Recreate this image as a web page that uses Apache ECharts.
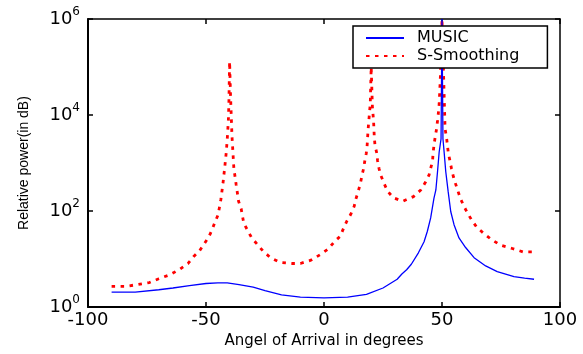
<!DOCTYPE html>
<html>
<head>
<meta charset="utf-8">
<script src="https://cdn.jsdelivr.net/npm/echarts@6/dist/echarts.min.js"></script>
<style>
html,body{margin:0;padding:0;background:#fff;}
#chart{width:583px;height:354px;}
</style>
</head>
<body>
<div id="chart"></div>
<script>
// MUSIC spectrum (angle in degrees, relative power)
var musicAngles = [-90,-80,-70,-64,-57,-50,-45,-41,-36,-30,-25,-18,-10,0,10,18,25,31,33,35,37,40,42.4,43.8,45.2,46.6,47.4,48.1,48.8,49.6,50,50.4,50.9,51.6,52.6,53.7,55.1,57.2,60,63.6,68.5,73.4,80.5,85,89];
var musicValues = [2.05,2.05,2.3,2.5,2.8,3.1,3.2,3.2,2.95,2.6,2.2,1.8,1.62,1.55,1.62,1.85,2.5,3.8,4.9,6.0,7.8,13.5,23,38,72,186,275,660,1700,3200,1000000,3200,1700,660,257,98,52,27.5,17.4,10.7,7.2,5.5,4.3,4.0,3.8];

// S-Smoothing spectrum
var smoothAngles = [-90,-84,-79,-74,-70,-65.4,-61.4,-57.6,-55.3,-52.7,-50.7,-48.8,-47.4,-46.2,-44.9,-43.7,-42.8,-42.1,-41.4,-40.9,-40.5,-40.3,-40,-39.6,-39,-38.2,-37.2,-36.2,-35.1,-34,-32.3,-30.6,-28.3,-25.9,-22.7,-18.6,-13.7,-10,-5.5,-1.7,1.8,4.4,6.9,8.3,9.7,11.4,12.8,13.5,14.5,15.4,16.1,16.8,17.3,17.9,18.3,18.5,18.7,19,19.3,19.6,20,20.5,21,21.3,21.6,22.4,22.7,23.3,24.1,25.5,26.9,29.3,33.4,37.9,41,43.1,44.5,45.2,46,46.2,46.6,47.1,47.7,48.1,48.5,48.8,49.3,50,50.7,51.3,51.9,52.3,52.7,53.4,54,54.8,55.8,56.8,57.9,59.3,60.8,62.5,64.7,67.8,70.9,74.8,79.8,84.4,89];
var smoothValues = [2.7,2.7,2.95,3.25,3.9,4.7,6.0,8.1,11.2,15,21,29,41,59,83,174,380,780,1700,3700,8300,18000,130000,25000,3700,780,350,160,112,56,39,27.5,20.4,14.8,10.7,8.5,8.1,8.1,9.5,12.3,16.2,23,30,44,62,87,126,178,257,372,550,776,1120,1580,2400,3550,5100,7600,11500,17000,100000,15000,7600,3550,2340,1580,1120,776,550,372,263,190,160,200,275,407,562,776,1100,1580,2340,3470,5130,7600,11500,17000,60000,1000000,60000,5130,3470,2340,1580,1100,776,525,363,257,178,126,91,66,46,34,25.7,19.5,16.6,14.1,14.1];

var seriesNames = ['MUSIC', 'S-Smoothing'];
var yTickExponents = [0, 2, 4, 6];

function pairs(xs, ys) {
  var out = [];
  for (var i = 0; i < xs.length; i++) out.push([xs[i], ys[i]]);
  return out;
}

var chart = echarts.init(document.getElementById('chart'), null, {renderer: 'canvas'});
var tickFont = 'DejaVu Sans';
chart.setOption({
  animation: false,
  backgroundColor: '#fff',
  grid: {left: 88, right: 23, top: 19, bottom: 44, show: false},
  legend: {
    data: seriesNames,
    orient: 'vertical',
    left: 353,
    top: 26,
    itemWidth: 38,
    itemHeight: 14,
    itemGap: 2,
    padding: [4, 28, 4, 12],
    backgroundColor: '#fff',
    borderColor: '#000',
    borderWidth: 1.5,
    itemStyle: {opacity: 0},
    textStyle: {fontFamily: tickFont, fontSize: 16, color: '#000', padding: [0, 0, 0, 8]}
  },
  xAxis: [{
    type: 'value', min: -100, max: 100, interval: 50,
    name: 'Angel of Arrival in degrees', nameLocation: 'middle', nameGap: 26,
    nameTextStyle: {fontFamily: tickFont, fontSize: 15, color: '#000'},
    axisLine: {onZero: false, lineStyle: {color: '#000', width: 2}},
    axisTick: {inside: true, length: 5, lineStyle: {color: '#000', width: 1.5}},
    axisLabel: {fontFamily: tickFont, fontSize: 18, color: '#000', margin: 4},
    splitLine: {show: false}
  }, {
    type: 'value', min: -100, max: 100, interval: 50, position: 'top',
    axisLine: {onZero: false, lineStyle: {color: '#000', width: 1.5}},
    axisTick: {inside: true, length: 5, lineStyle: {color: '#000', width: 1.5}},
    axisLabel: {show: false},
    splitLine: {show: false}
  }],
  yAxis: [{
    type: 'log', logBase: 10, min: 1, max: 1000000, interval: 2,
    name: 'Relative power(in dB)', nameLocation: 'middle', nameGap: 57,
    nameTextStyle: {fontFamily: 'Liberation Sans', fontSize: 14, color: '#000'},
    axisLine: {onZero: false, lineStyle: {color: '#000', width: 2}},
    axisTick: {inside: true, length: 5, lineStyle: {color: '#000', width: 1.5}},
    minorTick: {show: false},
    axisLabel: {
      margin: 8, color: '#000',
      formatter: function (v) {
        var e = Math.round(Math.log10(v));
        if (yTickExponents.indexOf(e) < 0) return '';
        return '{b|10}{s|' + e + '}';
      },
      rich: {
        b: {fontFamily: tickFont, fontSize: 18, color: '#000'},
        s: {fontFamily: tickFont, fontSize: 12, color: '#000', padding: [0, 0, 14, 0]}
      }
    },
    splitLine: {show: false}
  }, {
    type: 'log', logBase: 10, min: 1, max: 1000000, interval: 2, position: 'right',
    axisLine: {onZero: false, lineStyle: {color: '#000', width: 1.5}},
    axisTick: {inside: true, length: 5, lineStyle: {color: '#000', width: 1.5}},
    axisLabel: {show: false},
    splitLine: {show: false}
  }],
  series: [{
    name: seriesNames[0],
    type: 'line',
    symbol: 'none',
    data: pairs(musicAngles, musicValues),
    lineStyle: {color: '#0000ff', width: 1.3},
    itemStyle: {color: '#0000ff'},
    z: 3
  }, {
    name: seriesNames[1],
    type: 'line',
    symbol: 'none',
    data: pairs(smoothAngles, smoothValues),
    lineStyle: {color: '#ff0000', width: 2.8, type: [3.5, 5.5], cap: 'butt'},
    itemStyle: {color: '#ff0000'},
    z: 2
  }]
});
</script>
</body>
</html>
